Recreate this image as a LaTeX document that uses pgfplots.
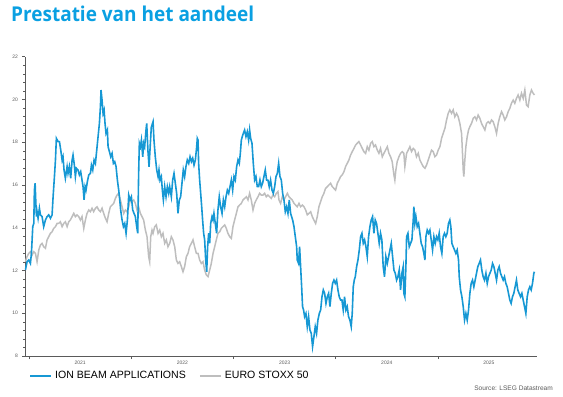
\documentclass[border=0pt]{standalone}
\usepackage{pgfplots}
\pgfplotsset{compat=1.18}
\usepackage{fontspec}
\setmainfont{Liberation Sans}
\newfontfamily\titlefont{Open Sans}
\definecolor{ibablue}{RGB}{22,152,212}
\definecolor{titleblue}{RGB}{10,160,226}
\definecolor{stoxxgray}{RGB}{190,190,190}
\definecolor{axisgray}{RGB}{90,90,90}
\begin{document}
\begin{tikzpicture}
\path[use as bounding box] (0,0) rectangle (563bp,397bp);
\node[anchor=base west, inner sep=0pt, text=titleblue, font=\titlefont\bfseries\fontsize{20.5}{24}\selectfont] at (11bp,375bp) {\scalebox{0.93}[1]{Prestatie van het aandeel}};
\node[anchor=base east, inner sep=0pt, text=axisgray, font=\fontsize{6.6}{7.5}\selectfont] at (553bp,7bp) {Source: LSEG Datastream};
\begin{axis}[
  at={(25bp,41bp)}, anchor=south west,
  scale only axis, width=512bp, height=299.3bp,
  xmin=2020.96, xmax=2025.97, ymin=8, ymax=22,
  axis x line*=bottom, axis y line*=left,
  axis line style={axisgray, line width=0.5bp},
  every tick/.style={axisgray, line width=0.4bp},
  tick align=outside,
  ytick={8,10,...,22}, minor y tick num=4,
  major tick length=3bp, minor tick length=2bp,
  xtick={2021,2022,2023,2024,2025}, xticklabels={},
  extra x ticks={2021.5,2022.5,2023.5,2024.5,2025.5},
  extra x tick labels={2021,2022,2023,2024,2025},
  extra x tick style={major tick length=0pt, xticklabel style={yshift=-2bp}},
  /pgf/number format/assume math mode=true,
  ticklabel style={font=\fontsize{5}{6}\selectfont, text=axisgray},
  yticklabel style={xshift=-0.5bp},
  legend columns=2,
  legend style={at={(axis description cs:0.0078,-0.0668)}, anchor=west, draw=none, fill=none,
    inner sep=0pt, font=\fontsize{10.6}{12}\selectfont,
    /tikz/every even column/.append style={column sep=10bp},
    nodes={inner xsep=3bp, inner ysep=0pt}},
  legend image code/.code={\draw[#1, line width=2bp] (0bp,0bp) -- (21bp,0bp);},
  legend cell align=left,
]
\addlegendimage{ibablue}
\addlegendentry{ION BEAM APPLICATIONS}
\addlegendimage{stoxxgray}
\addlegendentry{EURO STOXX 50}
\addplot[stoxxgray, line width=1.5bp, forget plot] table {
2020.964 12.41
2020.980 12.65
2020.997 12.80
2021.013 12.88
2021.029 12.72
2021.046 12.88
2021.062 12.80
2021.078 12.41
2021.095 12.96
2021.111 13.19
2021.127 13.27
2021.143 13.11
2021.160 13.04
2021.176 13.43
2021.192 13.58
2021.209 13.74
2021.225 13.81
2021.241 13.97
2021.258 14.05
2021.274 14.20
2021.290 14.20
2021.306 14.28
2021.323 14.05
2021.339 14.20
2021.355 14.28
2021.372 14.05
2021.388 14.28
2021.404 14.36
2021.421 14.52
2021.437 14.67
2021.453 14.52
2021.469 14.60
2021.486 14.52
2021.502 14.36
2021.518 14.52
2021.535 13.97
2021.551 14.36
2021.567 14.67
2021.584 14.83
2021.600 14.75
2021.616 14.91
2021.632 14.75
2021.649 14.91
2021.665 14.98
2021.681 14.83
2021.698 14.75
2021.714 14.91
2021.730 14.67
2021.747 14.44
2021.763 14.28
2021.779 14.67
2021.795 14.98
2021.812 15.06
2021.828 15.14
2021.844 15.37
2021.861 15.53
2021.877 15.61
2021.893 15.30
2021.910 14.98
2021.926 14.67
2021.942 14.83
2021.958 14.75
2021.975 14.98
2021.991 15.30
2022.007 15.22
2022.024 15.30
2022.040 15.14
2022.056 14.83
2022.072 14.98
2022.089 14.67
2022.105 14.52
2022.121 14.36
2022.138 13.89
2022.154 13.58
2022.170 12.65
2022.180 12.41
2022.190 13.58
2022.203 13.89
2022.213 13.74
2022.229 14.05
2022.245 14.13
2022.262 13.74
2022.278 13.89
2022.294 13.58
2022.310 13.74
2022.327 13.27
2022.343 13.43
2022.359 13.11
2022.376 13.27
2022.392 13.58
2022.408 13.43
2022.425 13.11
2022.441 12.49
2022.457 12.33
2022.473 12.41
2022.490 12.18
2022.506 11.94
2022.522 12.18
2022.539 12.65
2022.555 12.80
2022.571 13.11
2022.588 13.27
2022.604 13.43
2022.620 13.11
2022.637 12.80
2022.653 12.80
2022.669 12.49
2022.685 12.33
2022.702 12.41
2022.718 12.02
2022.734 11.79
2022.751 11.71
2022.767 12.02
2022.783 12.33
2022.800 12.80
2022.816 13.11
2022.832 13.43
2022.848 13.74
2022.865 13.81
2022.881 13.97
2022.897 14.05
2022.914 14.13
2022.930 13.97
2022.946 13.74
2022.963 13.58
2022.979 13.50
2022.995 14.05
2023.011 14.36
2023.028 14.67
2023.044 14.98
2023.060 15.06
2023.077 15.14
2023.093 15.30
2023.109 15.37
2023.126 15.45
2023.142 15.30
2023.158 15.61
2023.174 15.30
2023.191 14.83
2023.207 15.14
2023.223 15.30
2023.240 15.45
2023.256 15.61
2023.272 15.53
2023.289 15.53
2023.305 15.61
2023.321 15.45
2023.337 15.53
2023.354 15.45
2023.370 15.37
2023.386 15.53
2023.403 15.45
2023.419 15.61
2023.435 15.69
2023.445 15.30
2023.461 15.14
2023.478 15.45
2023.494 15.30
2023.510 15.45
2023.527 15.61
2023.543 15.45
2023.559 15.37
2023.575 15.30
2023.592 15.14
2023.608 15.06
2023.624 14.98
2023.641 15.14
2023.657 14.98
2023.673 15.06
2023.690 14.98
2023.706 14.83
2023.722 14.60
2023.738 14.67
2023.755 14.75
2023.771 14.52
2023.787 14.36
2023.804 14.20
2023.820 14.52
2023.836 14.98
2023.853 15.22
2023.869 15.45
2023.885 15.61
2023.901 15.84
2023.918 15.92
2023.934 16.00
2023.950 16.08
2023.967 15.92
2023.983 15.84
2023.999 15.76
2024.016 16.08
2024.032 16.23
2024.048 16.39
2024.064 16.47
2024.081 16.62
2024.097 16.86
2024.113 17.01
2024.130 17.17
2024.146 17.40
2024.162 17.56
2024.179 17.71
2024.195 17.87
2024.211 17.95
2024.227 18.03
2024.244 17.87
2024.260 17.71
2024.276 17.56
2024.293 17.48
2024.309 17.79
2024.325 17.63
2024.342 17.95
2024.358 18.03
2024.374 17.79
2024.390 17.87
2024.407 17.63
2024.423 17.48
2024.439 17.71
2024.456 17.32
2024.472 17.48
2024.488 17.63
2024.505 17.79
2024.521 17.48
2024.537 17.32
2024.553 17.09
2024.570 16.47
2024.579 16.23
2024.589 16.70
2024.602 17.09
2024.619 17.32
2024.635 17.48
2024.651 17.56
2024.667 17.48
2024.677 16.86
2024.694 17.48
2024.710 17.63
2024.726 17.79
2024.742 17.56
2024.759 17.71
2024.775 17.63
2024.791 17.32
2024.808 17.48
2024.824 17.17
2024.840 17.01
2024.857 16.86
2024.873 16.78
2024.889 16.93
2024.906 17.17
2024.922 17.40
2024.938 17.63
2024.954 17.56
2024.971 17.32
2024.987 17.40
2025.003 17.63
2025.020 17.79
2025.036 18.18
2025.052 18.41
2025.069 18.65
2025.085 19.04
2025.101 19.35
2025.117 19.51
2025.134 19.35
2025.150 19.51
2025.166 19.19
2025.183 19.35
2025.199 19.19
2025.215 18.88
2025.232 18.41
2025.241 17.48
2025.248 16.70
2025.254 16.39
2025.264 17.17
2025.274 17.79
2025.287 18.26
2025.300 18.57
2025.313 18.73
2025.329 18.88
2025.346 19.12
2025.362 19.19
2025.378 19.04
2025.394 19.27
2025.411 19.12
2025.427 18.88
2025.443 18.73
2025.460 18.57
2025.476 18.88
2025.492 18.96
2025.509 18.88
2025.525 19.04
2025.541 18.96
2025.557 18.73
2025.574 18.41
2025.590 18.88
2025.606 19.19
2025.623 19.43
2025.639 19.27
2025.655 19.04
2025.672 19.19
2025.688 19.43
2025.704 19.58
2025.720 19.82
2025.737 19.97
2025.753 19.82
2025.769 20.05
2025.785 20.21
2025.802 19.97
2025.818 20.29
2025.835 20.05
2025.851 20.44
2025.867 19.74
2025.883 19.66
2025.900 20.21
2025.916 20.44
2025.932 20.29
2025.945 20.21
};
\addplot[ibablue, line width=1.6bp, forget plot] table {
2020.964 12.02
2020.980 12.41
2020.997 12.49
2021.013 12.33
2021.023 12.80
2021.036 14.05
2021.046 14.20
2021.052 15.76
2021.059 16.08
2021.065 15.30
2021.072 14.52
2021.078 14.75
2021.088 14.44
2021.101 14.91
2021.111 14.60
2021.127 14.52
2021.143 14.05
2021.160 14.36
2021.176 14.52
2021.192 14.60
2021.209 14.44
2021.225 14.60
2021.235 15.45
2021.248 16.39
2021.258 17.17
2021.267 18.18
2021.284 18.03
2021.297 18.03
2021.310 17.63
2021.323 17.17
2021.332 17.32
2021.342 16.70
2021.355 16.31
2021.372 16.86
2021.381 16.54
2021.394 16.86
2021.407 16.31
2021.421 17.17
2021.430 17.40
2021.443 16.93
2021.453 16.39
2021.463 16.78
2021.479 16.70
2021.492 16.47
2021.505 16.62
2021.518 16.23
2021.528 15.92
2021.538 15.30
2021.548 15.92
2021.557 15.76
2021.570 16.15
2021.584 16.47
2021.600 16.54
2021.610 16.93
2021.623 16.70
2021.636 17.17
2021.649 17.01
2021.662 17.63
2021.675 18.26
2021.688 18.88
2021.698 19.66
2021.704 20.44
2021.714 19.97
2021.724 19.35
2021.734 19.51
2021.743 18.88
2021.753 18.41
2021.766 18.57
2021.773 17.79
2021.786 17.56
2021.799 17.32
2021.812 17.48
2021.825 17.01
2021.838 17.09
2021.851 16.86
2021.864 16.23
2021.877 15.76
2021.887 15.30
2021.896 14.83
2021.910 14.36
2021.923 14.05
2021.936 14.20
2021.949 13.74
2021.962 14.36
2021.975 15.53
2021.988 15.30
2022.001 15.45
2022.014 14.83
2022.027 14.67
2022.040 14.52
2022.053 14.05
2022.063 13.74
2022.072 16.54
2022.079 17.95
2022.089 17.79
2022.099 18.10
2022.112 17.32
2022.121 17.95
2022.131 17.79
2022.144 18.57
2022.151 18.88
2022.163 17.60
2022.174 16.85
2022.186 17.90
2022.196 18.70
2022.213 18.96
2022.222 18.10
2022.235 17.32
2022.249 16.70
2022.262 16.39
2022.271 16.70
2022.281 16.23
2022.294 16.39
2022.304 15.76
2022.314 15.30
2022.327 15.92
2022.340 15.45
2022.353 15.92
2022.366 15.61
2022.376 15.92
2022.392 15.45
2022.405 16.23
2022.418 16.54
2022.431 16.08
2022.444 15.61
2022.457 14.67
2022.470 15.30
2022.483 15.45
2022.496 16.08
2022.509 16.70
2022.522 16.39
2022.535 16.86
2022.548 17.17
2022.562 17.01
2022.575 17.32
2022.588 17.09
2022.601 17.25
2022.614 16.93
2022.627 17.17
2022.640 17.79
2022.646 18.18
2022.653 18.10
2022.659 17.01
2022.669 16.23
2022.679 15.61
2022.689 14.98
2022.698 14.36
2022.708 13.74
2022.718 13.43
2022.728 12.49
2022.738 11.94
2022.747 13.11
2022.757 13.74
2022.767 13.27
2022.777 14.20
2022.790 14.52
2022.800 14.36
2022.809 14.67
2022.822 14.20
2022.835 13.74
2022.848 14.83
2022.861 15.45
2022.874 14.98
2022.888 14.67
2022.901 15.30
2022.914 14.98
2022.927 15.45
2022.940 15.76
2022.953 15.61
2022.966 15.92
2022.979 16.23
2022.992 15.76
2023.005 16.39
2023.018 16.23
2023.031 16.86
2023.044 17.17
2023.057 17.01
2023.067 17.48
2023.077 18.10
2023.086 18.26
2023.096 18.41
2023.109 18.57
2023.122 18.26
2023.135 18.49
2023.148 18.10
2023.158 18.57
2023.168 18.18
2023.181 17.95
2023.194 17.01
2023.207 16.23
2023.220 16.39
2023.233 15.92
2023.246 15.92
2023.259 16.23
2023.272 15.92
2023.285 16.08
2023.298 16.39
2023.311 16.70
2023.324 16.23
2023.337 16.23
2023.350 15.92
2023.363 16.23
2023.377 15.76
2023.390 15.61
2023.403 15.92
2023.416 16.39
2023.429 16.54
2023.442 17.01
2023.455 16.39
2023.468 16.23
2023.481 15.61
2023.494 15.30
2023.507 14.75
2023.520 14.98
2023.533 14.67
2023.546 15.30
2023.559 14.67
2023.579 14.36
2023.592 14.05
2023.605 13.58
2023.618 13.11
2023.624 12.49
2023.637 12.33
2023.647 13.11
2023.657 12.18
2023.667 11.24
2023.676 10.31
2023.686 10.15
2023.696 9.84
2023.709 9.99
2023.722 9.37
2023.735 9.84
2023.748 9.22
2023.761 9.06
2023.774 8.44
2023.787 8.90
2023.800 9.37
2023.813 9.06
2023.826 9.68
2023.840 9.99
2023.853 10.15
2023.866 10.77
2023.879 11.09
2023.892 10.93
2023.905 10.46
2023.918 10.77
2023.931 10.93
2023.944 10.31
2023.957 10.93
2023.970 11.40
2023.983 11.55
2023.996 11.40
2024.009 11.55
2024.022 11.09
2024.035 10.77
2024.048 10.62
2024.061 10.62
2024.074 10.15
2024.087 10.77
2024.100 10.15
2024.113 10.31
2024.126 9.84
2024.139 9.68
2024.152 9.37
2024.162 9.99
2024.172 11.24
2024.182 11.55
2024.192 11.71
2024.205 12.18
2024.218 12.49
2024.231 12.96
2024.244 13.58
2024.257 13.74
2024.270 13.27
2024.283 13.43
2024.296 13.11
2024.309 12.65
2024.322 13.58
2024.335 14.05
2024.348 14.36
2024.361 14.52
2024.374 13.74
2024.387 14.36
2024.400 14.20
2024.413 13.74
2024.426 13.27
2024.439 13.74
2024.452 13.43
2024.465 12.18
2024.478 11.71
2024.491 12.65
2024.505 12.33
2024.518 12.65
2024.531 12.96
2024.544 13.27
2024.557 12.65
2024.570 12.02
2024.583 11.87
2024.596 11.55
2024.609 11.71
2024.622 12.02
2024.635 11.09
2024.648 11.87
2024.661 12.18
2024.667 10.93
2024.677 10.77
2024.687 12.18
2024.694 13.58
2024.707 13.74
2024.720 13.11
2024.733 13.27
2024.746 13.43
2024.759 14.36
2024.765 14.98
2024.775 14.20
2024.785 14.52
2024.798 14.05
2024.811 14.20
2024.824 13.74
2024.837 13.27
2024.850 13.11
2024.863 12.80
2024.873 12.49
2024.883 13.58
2024.896 13.89
2024.909 13.74
2024.922 13.89
2024.935 13.43
2024.948 12.96
2024.961 13.58
2024.974 13.27
2024.987 13.58
2025.000 13.43
2025.013 13.74
2025.026 13.11
2025.039 12.80
2025.052 13.58
2025.065 13.74
2025.078 13.58
2025.091 13.74
2025.104 14.20
2025.117 14.36
2025.127 14.05
2025.137 13.27
2025.150 13.11
2025.163 12.96
2025.176 12.80
2025.189 12.96
2025.202 12.49
2025.209 11.71
2025.222 11.09
2025.235 10.77
2025.248 10.31
2025.261 9.68
2025.274 9.99
2025.287 9.68
2025.300 10.15
2025.313 10.93
2025.326 11.40
2025.339 11.55
2025.352 11.24
2025.365 11.55
2025.378 11.87
2025.391 12.18
2025.404 12.33
2025.417 12.49
2025.430 12.02
2025.443 11.71
2025.456 11.55
2025.470 11.87
2025.483 11.40
2025.496 11.71
2025.509 11.87
2025.522 12.02
2025.535 12.33
2025.548 12.18
2025.561 11.87
2025.574 11.55
2025.587 12.02
2025.600 12.18
2025.613 11.87
2025.626 11.71
2025.639 11.55
2025.652 11.71
2025.665 11.40
2025.678 11.24
2025.691 10.93
2025.704 10.62
2025.717 10.46
2025.730 10.77
2025.743 10.93
2025.756 11.24
2025.769 11.55
2025.782 11.09
2025.795 10.93
2025.809 10.77
2025.822 10.93
2025.835 10.62
2025.848 10.31
2025.861 9.99
2025.874 10.77
2025.887 11.09
2025.900 11.24
2025.913 11.09
2025.926 11.40
2025.939 11.87
2025.945 11.94
};
\end{axis}
\end{tikzpicture}
\end{document}
